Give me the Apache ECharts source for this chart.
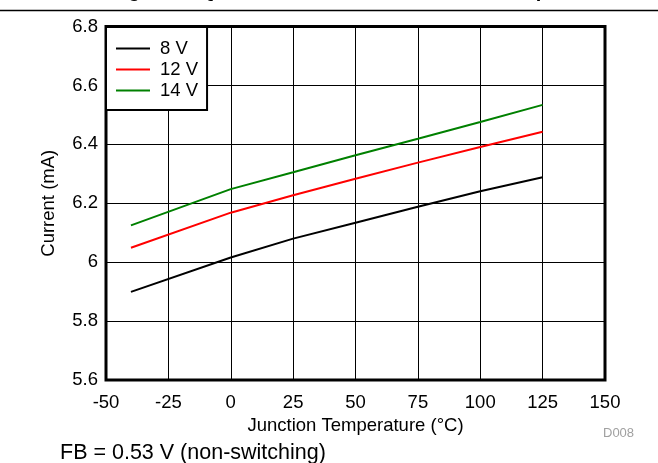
<!DOCTYPE html>
<html>
<head>
<meta charset="utf-8">
<script src="https://cdn.jsdelivr.net/npm/echarts@6/dist/echarts.min.js"></script>
<style>html,body{margin:0;padding:0;background:#fff}#c{width:658px;height:463px}</style>
</head>
<body>
<div id="c"></div>
<script>
var temps = [-40, 0, 25, 50, 75, 100, 125];
var v8 = [5.899, 6.016, 6.080, 6.134, 6.188, 6.241, 6.288];
var v12 = [6.049, 6.168, 6.227, 6.283, 6.338, 6.391, 6.443];
var v14 = [6.125, 6.248, 6.305, 6.363, 6.419, 6.476, 6.534];
var seriesNames = ['8 V', '12 V', '14 V'];
var seriesColors = ['#000000', '#ff0000', '#008000'];
var xTicks = [-50, -25, 0, 25, 50, 75, 100, 125, 150];
var yTicks = [5.6, 5.8, 6, 6.2, 6.4, 6.6, 6.8];

function pairs(vals){ return temps.map(function(t,i){ return [t, vals[i]]; }); }
var allVals = [v8, v12, v14];
var FONT = '"Liberation Sans", Arial, sans-serif';
var FS = 18.5;

var chart = echarts.init(document.getElementById('c'), null, {renderer:'canvas'});
chart.setOption({
  animation: false,
  backgroundColor: '#fff',
  grid: {left: 106, right: 53, top: 26.5, bottom: 83, show: true, borderColor: '#000', borderWidth: 3, backgroundColor: 'transparent', z: 5},
  legend: {
    left: 106, top: 27, orient: 'vertical',
    backgroundColor: '#fff', borderColor: '#000', borderWidth: 2,
    padding: [12, 9, 10, 10], itemGap: 2, itemWidth: 34, itemHeight: 14,
    icon: 'path://M0,0M34,14M0,6H34V8H0Z',
    textStyle: {fontFamily: FONT, fontSize: FS, color: '#000', padding: [0,0,0,5]},
    data: seriesNames, z: 10
  },
  xAxis: {
    type: 'value', min: xTicks[0], max: xTicks[xTicks.length-1], interval: 25,
    name: 'Junction Temperature (°C)', nameLocation: 'middle', nameGap: 35,
    nameTextStyle: {fontFamily: FONT, fontSize: FS, color: '#000'},
    axisLine: {show: false}, axisTick: {show: false},
    axisLabel: {fontFamily: FONT, fontSize: FS, color: '#000', margin: 13},
    splitLine: {show: true, lineStyle: {color: '#000', width: 1}}
  },
  yAxis: {
    type: 'value', min: yTicks[0], max: yTicks[yTicks.length-1], interval: 0.2,
    name: 'Current (mA)', nameLocation: 'middle', nameGap: 48,
    nameTextStyle: {fontFamily: FONT, fontSize: FS, color: '#000'},
    axisLine: {show: false}, axisTick: {show: false},
    axisLabel: {fontFamily: FONT, fontSize: FS, color: '#000', margin: 8,
      formatter: function(v){ return String(Math.round(v*10)/10); }},
    splitLine: {show: true, lineStyle: {color: '#000', width: 1}}
  },
  series: seriesNames.map(function(n, i){
    return {name: n, type: 'line', data: pairs(allVals[i]), symbol: 'none',
      lineStyle: {color: seriesColors[i], width: 2}, itemStyle: {color: seriesColors[i]}, z: 3};
  }),
  graphic: [
    {type: 'line', shape: {x1: 0, y1: 10.5, x2: 658, y2: 10.5}, style: {stroke: '#000', lineWidth: 1.5}},
    {type: 'text', x: 110.5, y: 1.5, style: {text: 'Figure 8. Quiescent Current vs Junction Temperature', font: 'bold 20px ' + FONT, fill: '#000', verticalAlign: 'bottom'}},
    {type: 'text', x: 603, y: 433, style: {text: 'D008', font: '13px ' + FONT, fill: '#a0a0a0', verticalAlign: 'middle'}},
    {type: 'text', x: 60, y: 453.5, style: {text: 'FB = 0.53 V (non-switching)', font: '21.5px ' + FONT, fill: '#000', verticalAlign: 'middle'}}
  ]
});
</script>
</body>
</html>
